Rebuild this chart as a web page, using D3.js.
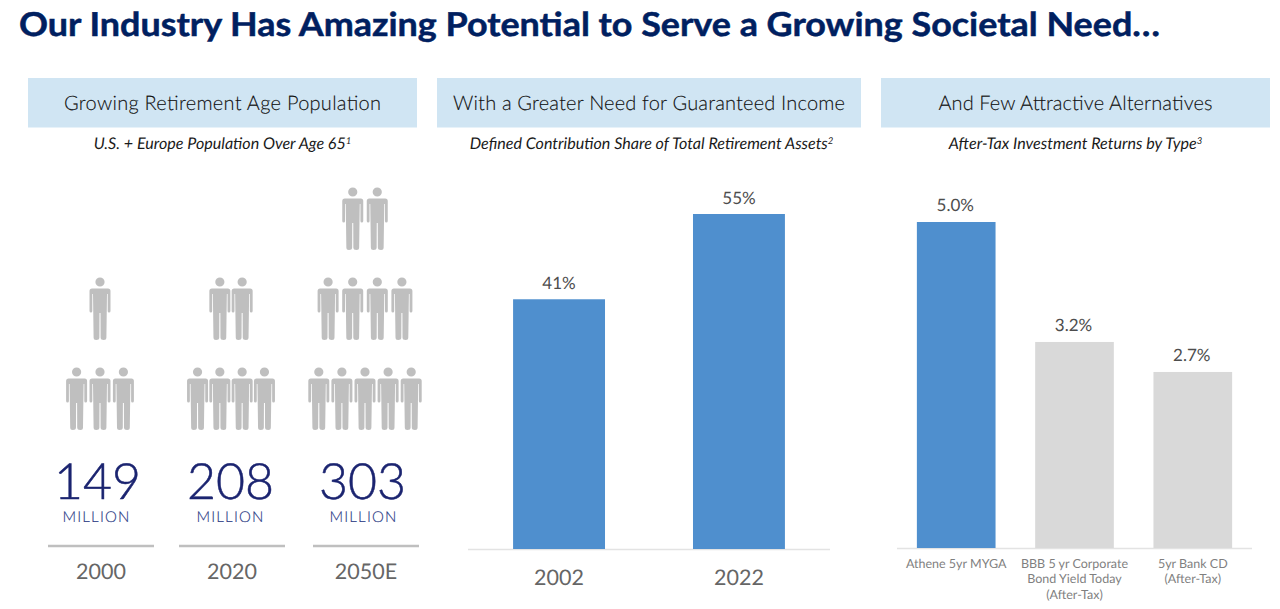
<!DOCTYPE html>
<html><head><meta charset="utf-8">
<script src="https://cdn.jsdelivr.net/npm/d3@7"></script>
<style>html,body{margin:0;padding:0;background:#fff}svg{display:block}text{text-rendering:geometricPrecision}</style>
</head><body><svg id="c" width="1280" height="609"></svg>
<script>
const titleText = "Our Industry Has Amazing Potential to Serve a Growing Societal Need…";
const panelHeads = ["Growing Retirement Age Population","With a Greater Need for Guaranteed Income","And Few Attractive Alternatives"];
const panelSubs = ["U.S. + Europe Population Over Age 65","Defined Contribution Share of Total Retirement Assets","After-Tax Investment Returns by Type"];
const panelNotes = ["1","2","3"];
const popYears = ["2000","2020","2050E"];
const popValues = [149,208,303];
const popIconRows = [[0,1,3],[0,2,4],[2,4,5]];
const dcYears = ["2002","2022"];
const dcShares = [41,55];
const altTypes = ["Athene 5yr MYGA","BBB 5 yr Corporate|Bond Yield Today|(After-Tax)","5yr Bank CD|(After-Tax)"];
const altReturns = [5.0,3.16,2.7];

const svg = d3.select("#c");
const LATO = "Lato, sans-serif";

svg.append("text").attr("x",19).attr("y",36).attr("font-family",LATO).attr("font-weight",700)
  .attr("font-size",33).attr("fill","#002060").attr("stroke","#002060").attr("stroke-width",.5)
  .attr("textLength",1141).attr("lengthAdjust","spacingAndGlyphs").text(titleText);

const panelX = [[28,417],[437,861],[881,1270]];
const headW = [317,392,274];
panelHeads.forEach((h,i)=>{
  const [a,b]=panelX[i], mid=(a+b)/2;
  svg.append("rect").attr("x",a).attr("y",78).attr("width",b-a).attr("height",49.5).attr("fill","#d0e5f3");
  svg.append("text").attr("x",mid).attr("y",110).attr("text-anchor","middle").attr("font-family",LATO)
    .attr("font-weight",300).attr("font-size",20).attr("fill","#111").attr("stroke","#111").attr("stroke-width",.12)
    .attr("textLength",headW[i]).text(h);
  const t=svg.append("text").attr("x",[222.5,651.5,1075.5][i]).attr("y",149).attr("text-anchor","middle")
    .attr("font-family",LATO).attr("font-style","italic").attr("font-size",16.1).attr("fill","#1a1a1a");
  t.append("tspan").text(panelSubs[i]);
  t.append("tspan").attr("dy",-5).attr("font-size",9.5).text(panelNotes[i]);
});

// Panel 1: people
const popX = d3.scaleOrdinal().domain(popYears).range([100,231,365]);
const popRowY = d3.scalePoint().domain([0,1,2]).range([192,372]);
const iconPath = (()=>{
  const p=d3.path();
  p.moveTo(-8,6.5);p.lineTo(8,6.5);p.quadraticCurveTo(10.5,6.5,10.5,9);p.lineTo(10.5,29);p.quadraticCurveTo(10.5,30.5,9,30.5);p.quadraticCurveTo(7.7,30.5,7.7,29);
  p.lineTo(7.7,12);p.lineTo(7,12);p.lineTo(6.4,55.5);p.quadraticCurveTo(6.4,58,3.8,58);p.quadraticCurveTo(.6,58,.6,55.5);p.lineTo(.5,31);p.lineTo(-.5,31);
  p.lineTo(-.6,55.5);p.quadraticCurveTo(-.6,58,-3.8,58);p.quadraticCurveTo(-6.4,58,-6.4,55.5);p.lineTo(-7,12);p.lineTo(-7.7,12);p.lineTo(-7.7,29);
  p.quadraticCurveTo(-7.7,30.5,-9,30.5);p.quadraticCurveTo(-10.5,30.5,-10.5,29);p.lineTo(-10.5,9);p.quadraticCurveTo(-10.5,6.5,-8,6.5);p.closePath();
  p.moveTo(4.6,0);p.arc(0,0,4.6,0,Math.PI*2);
  return p.toString();
})();
const iconStep = {1:23,2:24.5,3:23.4,4:24.6,5:23.1};
const numOff = [-2.5,-.5,-2.5], milOff = [-3.5,-.5,-1.5];
popYears.forEach((y,i)=>{
  popIconRows[i].forEach((n,r)=>{
    const s = i===1 ? 22.3 : iconStep[n];
    d3.range(n).forEach(k=>{
      svg.append("path").attr("class","person").attr("d",iconPath).attr("fill","#bfbfbf")
        .attr("transform",`translate(${popX(y)+(k-(n-1)/2)*s},${popRowY(r)})`);
    });
  });
  const cx=popX(y);
  svg.append("text").attr("x",cx+numOff[i]).attr("y",499).attr("text-anchor","middle").attr("font-family",LATO).attr("font-weight",300)
    .attr("font-size",50).attr("fill","#1b2470").attr("stroke","#1b2470").attr("stroke-width",.5).text(popValues[i]);
  svg.append("text").attr("x",cx+milOff[i]).attr("y",522).attr("text-anchor","middle").attr("font-family",LATO).attr("font-weight",300)
    .attr("font-size",15).attr("letter-spacing",1.2).attr("fill","#2b3a85").attr("stroke","#2b3a85").attr("stroke-width",.15).text("MILLION");
  svg.append("line").attr("x1",cx-52).attr("x2",cx+54).attr("y1",546).attr("y2",546).attr("stroke","#bfbfbf").attr("stroke-width",2.4);
  svg.append("text").attr("x",cx+1).attr("y",579).attr("text-anchor","middle").attr("font-family",LATO).attr("font-weight",400)
    .attr("font-size",21.5).attr("fill","#666").text(y);
});

// Panel 2
const x2 = d3.scaleBand().domain(dcYears).range([469,829]).paddingInner(.489).paddingOuter(.245);
const y2 = d3.scaleLinear().domain([0,55]).range([549,214]);
svg.append("line").attr("x1",468).attr("x2",830).attr("y1",549.5).attr("y2",549.5).attr("stroke","#e3e3e3").attr("stroke-width",1.5);
svg.selectAll(".dc").data(dcShares).join("rect").attr("class","dc").attr("x",(d,i)=>x2(dcYears[i])).attr("width",x2.bandwidth())
  .attr("y",d=>y2(d)).attr("height",d=>y2(0)-y2(d)).attr("fill","#4f8fce");
svg.selectAll(".dcl").data(dcShares).join("text").attr("class","dcl").attr("x",(d,i)=>x2(dcYears[i])+x2.bandwidth()/2)
  .attr("y",d=>y2(d)-10).attr("text-anchor","middle").attr("font-family",LATO).attr("font-size",17).attr("fill","#4d4d4d").text(d=>d+"%");
dcYears.forEach(y=>svg.append("text").attr("x",x2(y)+x2.bandwidth()/2).attr("y",585).attr("text-anchor","middle")
  .attr("font-family",LATO).attr("font-weight",400).attr("font-size",21.5).attr("fill","#666").text(y));

// Panel 3
const x3 = d3.scaleBand().domain(altTypes).range([897,1252]).paddingInner(.335).paddingOuter(.168);
const y3 = d3.scaleLinear().domain([0,5]).range([548,222]);
svg.append("line").attr("x1",897).attr("x2",1252).attr("y1",548.5).attr("y2",548.5).attr("stroke","#e3e3e3").attr("stroke-width",1.5);
svg.selectAll(".alt").data(altReturns).join("rect").attr("class","alt").attr("x",(d,i)=>x3(altTypes[i])).attr("width",x3.bandwidth())
  .attr("y",d=>y3(d)).attr("height",d=>y3(0)-y3(d)).attr("fill",(d,i)=>i?"#d9d9d9":"#4f8fce");
svg.selectAll(".altl").data(altReturns).join("text").attr("class","altl").attr("x",(d,i)=>x3(altTypes[i])+x3.bandwidth()/2-1)
  .attr("y",d=>y3(d)-11).attr("text-anchor","middle").attr("font-family",LATO).attr("font-size",17).attr("fill","#4d4d4d").text(d=>d.toFixed(1)+"%");
altTypes.forEach(a=>{
  a.split("|").forEach((line,j)=>svg.append("text").attr("x",x3(a)+x3.bandwidth()/2).attr("y",568+j*15.3).attr("text-anchor","middle")
    .attr("font-family",LATO).attr("font-weight",400).attr("font-size",12.5).attr("fill","#7f7f7f").text(line));
});
</script></body></html>
